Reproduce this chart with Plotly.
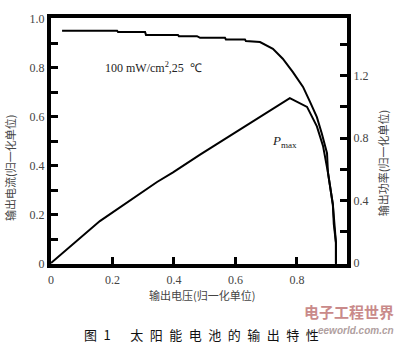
import plotly.graph_objects as go

# Current curve (normalized voltage, normalized current)
v_current = [0.036, 0.215, 0.218, 0.306, 0.309, 0.413, 0.416, 0.475, 0.485, 0.566,
             0.569, 0.631, 0.634, 0.680, 0.722, 0.754, 0.787, 0.820, 0.842, 0.865,
             0.881, 0.898, 0.901, 0.917, 0.920, 0.927, 0.927]
i_current = [0.951, 0.951, 0.946, 0.946, 0.934, 0.934, 0.929, 0.929, 0.922, 0.922,
             0.915, 0.915, 0.909, 0.905, 0.877, 0.837, 0.782, 0.722, 0.663, 0.599,
             0.532, 0.452, 0.373, 0.242, 0.163, 0.087, 0.0]

# Power curve (normalized voltage, normalized power)
v_power = [0.0, 0.159, 0.345, 0.397, 0.485, 0.647, 0.777, 0.833, 0.865, 0.885,
           0.901, 0.917, 0.927, 0.927]
p_power = [0.0, 0.269, 0.519, 0.581, 0.694, 0.894, 1.056, 1.0, 0.875, 0.75,
           0.581, 0.375, 0.131, 0.0]

x_ticks = [0, 0.2, 0.4, 0.6, 0.8]
x_ticktext = ["0", "0.2", "0.4", "0.6", "0.8"]
y_ticks = [0, 0.2, 0.4, 0.6, 0.8, 1.0]
y_ticktext = ["0", "0.2", "0.4", "0.6", "0.8", "1.0"]
y2_ticks = [0, 0.4, 0.8, 1.2]
y2_ticktext = ["0", "0.4", "0.8", "1.2"]

fig = go.Figure()
fig.add_trace(go.Scatter(x=v_current, y=i_current, mode="lines",
                         line=dict(color="black", width=2), yaxis="y", showlegend=False))
fig.add_trace(go.Scatter(x=v_power, y=p_power, mode="lines",
                         line=dict(color="black", width=2), yaxis="y2", showlegend=False))

tickfont = dict(family="Liberation Serif", size=12, color="#444")
cjk = "Noto Sans CJK SC"

fig.update_layout(
    width=397, height=350,
    margin=dict(l=51, r=50, t=12, b=86),
    paper_bgcolor="white", plot_bgcolor="white",
    xaxis=dict(range=[0, 0.963], tickvals=x_ticks, ticktext=x_ticktext,
               ticks="inside", ticklen=7, tickwidth=3, tickcolor="black",
               showline=True, linewidth=4, linecolor="black", mirror=True,
               showgrid=False, zeroline=False, tickfont=tickfont, ticklabelstandoff=2),
    yaxis=dict(range=[0, 1.003], tickvals=y_ticks, ticktext=y_ticktext,
               ticks="inside", ticklen=7, tickwidth=3, tickcolor="black",
               minor=dict(dtick=0.1, tick0=0, ticks="inside", ticklen=7, tickwidth=3,
                          tickcolor="black", showgrid=False),
               showline=True, linewidth=4, linecolor="black",
               showgrid=False, zeroline=False, tickfont=tickfont),
    yaxis2=dict(range=[-0.006, 1.569], overlaying="y", side="right",
                tickvals=y2_ticks, ticktext=y2_ticktext,
                ticks="inside", ticklen=7, tickwidth=3, tickcolor="black",
                minor=dict(dtick=0.2, tick0=0, ticks="inside", ticklen=7, tickwidth=3,
                           tickcolor="black", showgrid=False),
                showline=True, linewidth=4, linecolor="black",
                showgrid=False, zeroline=False, tickfont=tickfont),
)

annotations = [
    dict(text="100 mW/cm<sup>2</sup>,25  ℃", x=0.175, y=0.80, xref="paper", yref="paper",
         xanchor="left", yanchor="middle", showarrow=False,
         font=dict(family="Liberation Serif", size=12, color="#222")),
    dict(text="<i>P</i><sub>max</sub>", x=0.74, y=0.50, xref="paper", yref="paper",
         xanchor="left", yanchor="middle", showarrow=False,
         font=dict(family="Liberation Serif", size=13, color="#222")),
    dict(text="输出电压(归一化单位)", x=0.51, y=-0.125, xref="paper", yref="paper",
         xanchor="center", yanchor="middle", showarrow=False,
         font=dict(family=cjk, size=11, color="#444")),
    dict(text="输出电流(归一化单位)", x=-0.139, y=0.39, xref="paper", yref="paper",
         xanchor="center", yanchor="middle", showarrow=False, textangle=-90,
         font=dict(family=cjk, size=11, color="#444")),
    dict(text="输出功率(归一化单位)", x=1.122, y=0.41, xref="paper", yref="paper",
         xanchor="center", yanchor="middle", showarrow=False, textangle=-90,
         font=dict(family=cjk, size=11, color="#444")),
    dict(text="图\u20021\u2003\u2002太\u2002阳\u2002能\u2002电\u2002池\u2002的\u2002输\u2002出\u2002特\u2002性",
         x=0.105, y=-0.285, xref="paper", yref="paper",
         xanchor="left", yanchor="middle", showarrow=False,
         font=dict(family=cjk, size=13, color="#111")),
    dict(text="<b>电子工程世界</b>", x=1.165, y=-0.195, xref="paper", yref="paper",
         xanchor="right", yanchor="middle", showarrow=False,
         font=dict(family=cjk, size=15, color="#c98a8a")),
    dict(text="<b><i>eeworld.com.cn</i></b>", x=1.165, y=-0.27, xref="paper", yref="paper",
         xanchor="right", yanchor="middle", showarrow=False,
         font=dict(family="Liberation Sans", size=10, color="#b0a0a0")),
]
fig.update_layout(annotations=annotations)

fig.write_html("out.html")
